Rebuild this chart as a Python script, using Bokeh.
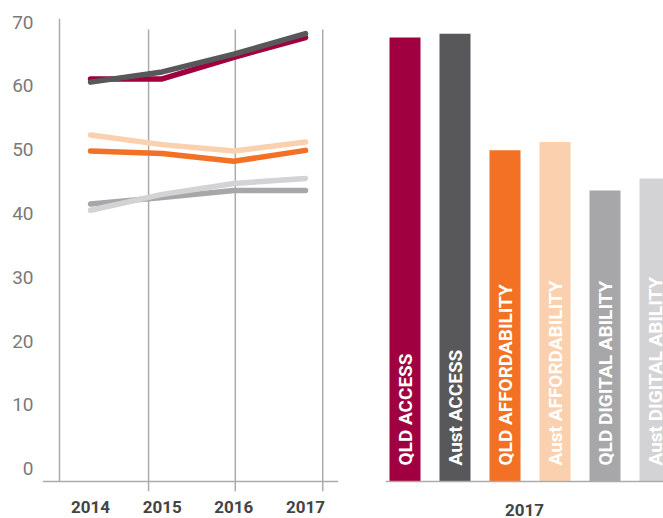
import math
from bokeh.plotting import figure
from bokeh.layouts import row
from bokeh.models import Range1d, FixedTicker, Span, ColumnDataSource, CustomJSTickFormatter
from bokeh.core.properties import value
from bokeh.embed import file_html
from bokeh.resources import INLINE

# ---- data ----
YEARS = [2014, 2015, 2016, 2017]
QLD_ACCESS = [61.1, 61.1, 64.5, 67.6]
AUST_ACCESS = [60.6, 62.2, 65.0, 68.2]
QLD_AFFORD = [49.8, 49.4, 48.2, 49.9]
AUST_AFFORD = [52.3, 50.8, 49.8, 51.2]
QLD_DIGITAL = [41.5, 42.5, 43.6, 43.6]
AUST_DIGITAL = [40.5, 43.0, 44.7, 45.5]
Y_TICKS = [0, 10, 20, 30, 40, 50, 60, 70]
BAR_LABELS = ["QLD ACCESS", "Aust ACCESS", "QLD AFFORDABILITY",
              "Aust AFFORDABILITY", "QLD DIGITAL ABILITY", "Aust DIGITAL ABILITY"]
GROUP_LABEL = "2017"

# ---- style ----
COLORS = ["#A00040", "#58585A", "#F37124", "#FBD0AE", "#A7A7AA", "#D3D3D5"]
SERIES = [QLD_ACCESS, AUST_ACCESS, QLD_AFFORD, AUST_AFFORD, QLD_DIGITAL, AUST_DIGITAL]
BAR_VALUES = [s[-1] for s in SERIES]
Y_START, Y_END = -3.60, 70.58
BASE = -2.03
GRID_X = [2014.81, 2016.02, 2017.24]
GRID_TOP = 68.86
AXIS_X = 2013.567
LINE_GRAY = "#ABABAB"

y_range = Range1d(Y_START, Y_END)

left = figure(width=370, height=518, x_range=Range1d(2013.33, 2017.46), y_range=y_range,
              output_backend="svg", toolbar_location=None,
              min_border_left=42, min_border_right=32, min_border_top=18, min_border_bottom=26)
left.grid.visible = False
left.outline_line_color = None
left.background_fill_color = "white"

xa = left.xaxis[0]
xa.ticker = FixedTicker(ticks=YEARS)
xa.axis_line_color = None
xa.major_tick_line_color = None
xa.minor_tick_line_color = None
xa.major_label_text_font = "Roboto"
xa.major_label_text_font_style = "bold"
xa.major_label_text_font_size = "17px"
xa.major_label_text_color = "#444444"
xa.major_label_standoff = 3

ya = left.yaxis[0]
ya.ticker = FixedTicker(ticks=Y_TICKS)
ya.axis_line_color = None
ya.major_tick_line_color = None
ya.minor_tick_line_color = None
ya.major_label_text_font = "Roboto"
ya.major_label_text_font_size = "19px"
ya.major_label_text_color = "#7A7A7A"
ya.major_label_standoff = 3

left.segment(x0=GRID_X, y0=[Y_START] * len(GRID_X), x1=GRID_X, y1=[GRID_TOP] * len(GRID_X),
             line_color=LINE_GRAY, line_width=1.5)
left.segment(x0=[AXIS_X], y0=[BASE], x1=[AXIS_X], y1=[Y_END], line_color=LINE_GRAY, line_width=1.5)
left.add_layout(Span(location=BASE, dimension="width", line_color=LINE_GRAY, line_width=1.5))

for vals, col in zip(SERIES, COLORS):
    left.line(YEARS, vals, line_color=col, line_width=5.5, line_cap="round", line_join="round")

# ---- right bar chart ----
idx = list(range(len(BAR_LABELS)))
x0, x1 = -0.39, 5.17
right = figure(width=293, height=518, x_range=Range1d(x0, x1), y_range=y_range,
               output_backend="svg", toolbar_location=None, y_axis_location=None,
               min_border_left=15, min_border_right=0, min_border_top=18, min_border_bottom=26)
right.grid.visible = False
right.outline_line_color = None

src = ColumnDataSource(dict(x=idx, top=BAR_VALUES, label=BAR_LABELS, color=COLORS))
right.vbar(x="x", top="top", bottom=BASE, width=0.62, fill_color="color", line_color=None, source=src)
right.text(x="x", y=BASE, text="label", source=src, angle=math.pi / 2,
           text_align="left", text_baseline="middle", text_color="white",
           text_font=value("Roboto"), text_font_style="bold", text_font_size="19px", y_offset=-16)
right.add_layout(Span(location=BASE, dimension="width", line_color=LINE_GRAY, line_width=1.5))

rxa = right.xaxis[0]
rxa.ticker = FixedTicker(ticks=[(x0 + x1) / 2])
rxa.formatter = CustomJSTickFormatter(args=dict(lbl=GROUP_LABEL), code="return lbl")
rxa.axis_line_color = None
rxa.major_tick_line_color = None
rxa.minor_tick_line_color = None
rxa.major_label_text_font = "Roboto"
rxa.major_label_text_font_style = "bold"
rxa.major_label_text_font_size = "17px"
rxa.major_label_text_color = "#444444"
rxa.major_label_standoff = 6

layout = row(left, right)
open("out.html", "w").write(file_html(layout, INLINE))
